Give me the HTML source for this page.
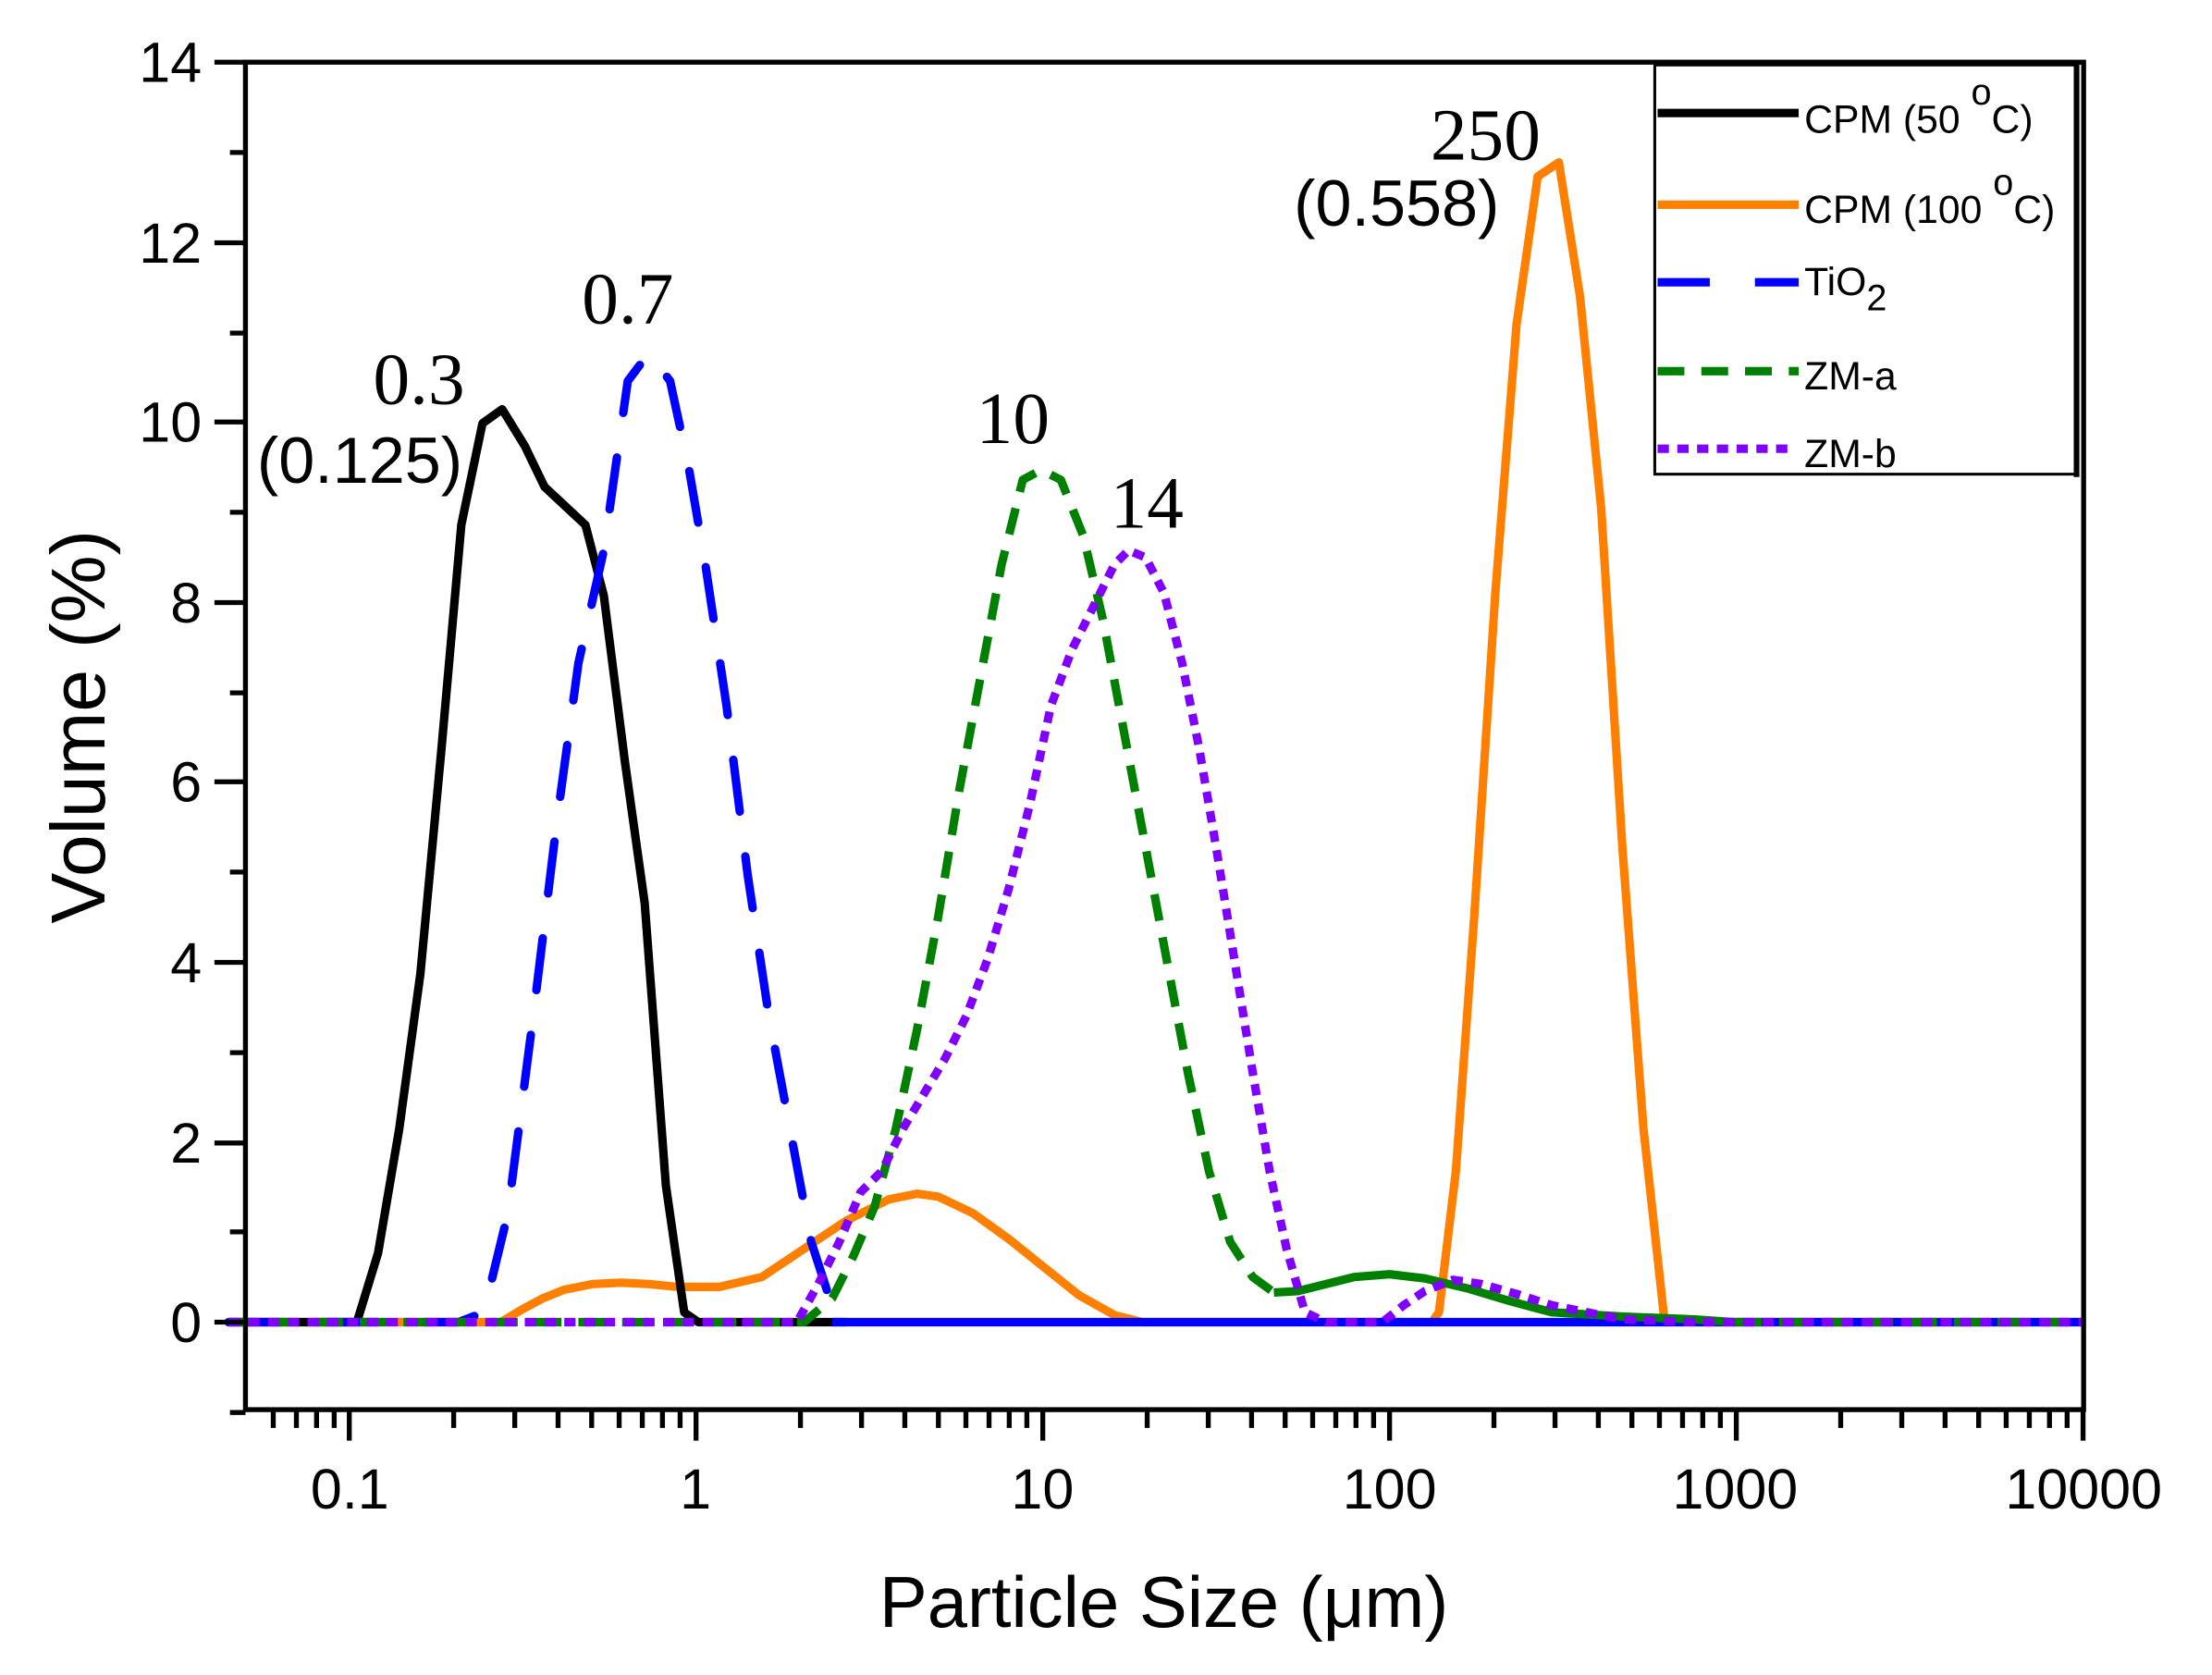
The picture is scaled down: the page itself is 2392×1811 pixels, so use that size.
<!DOCTYPE html>
<html><head><meta charset="utf-8"><style>html,body{margin:0;padding:0;background:#fff}svg{display:block}</style></head>
<body>
<svg width="2392" height="1811" viewBox="0 0 1568 1187" xmlns="http://www.w3.org/2000/svg" font-family="Liberation Sans, sans-serif">
<rect width="1568" height="1187" fill="#fff"/>
<g fill="none" stroke-linejoin="round" stroke-width="6">
<polyline stroke="#FF8000" points="162,937 355,937 370,928 385,920 400,914 420,910 440,909 460,910 480,912 510,912 540,905 570,885 600,865 630,850 650,846 665,848 690,860 715,878 740,898 765,918 790,932 810,937 1015,937 1020,930 1032,830 1045,650 1060,420 1075,230 1090,125 1105,115 1120,210 1135,360 1150,600 1165,800 1180,937 1477,937"/>
<polyline stroke="#000" points="162,937 253,937 268,888 283,800 298,690 313,530 327,372 342,300 356,290 372,316 386,345 415,372 428,422 443,540 457,640 472,840 485,930 495,937 600,937"/>
<polyline stroke="#0000FF" stroke-dasharray="37,32" stroke-linecap="round" points="162,937 325,937 343,930 360,860 378,720 395,580 410,470 428,390 445,270 460,250 475,270 488,330 500,400 515,500 530,620 545,720 560,800 575,880 588,920 600,937"/>
<polyline stroke="#0000FF" points="590,937 1477,937"/>
<polyline stroke="#008000" stroke-dasharray="19,12" points="162,937 570,937 590,920 605,890 620,855 635,800 650,730 665,650 680,560 695,480 710,400 725,340 738,333 752,340 768,380 782,440 797,520 812,600 827,680 842,760 857,830 872,880 888,905 903,916"/>
<polyline stroke="#008000" points="903,916 920,915 940,910 960,905 985,903 1010,906 1040,913 1070,922 1100,930 1150,933 1200,935 1230,937"/>
<polyline stroke="#008000" stroke-dasharray="19,12" points="1230,937 1477,937"/>
<polyline stroke="#8000FF" stroke-dasharray="8,6" points="162,937 565,937 580,910 595,880 610,845 625,830 640,800 655,775 670,750 685,720 700,680 715,630 730,570 745,500 760,460 775,430 790,400 800,390 812,395 825,420 838,470 850,530 862,600 875,680 888,760 900,830 912,885 925,930 940,937 980,937 995,925 1010,915 1030,907 1050,910 1075,917 1100,925 1150,935 1200,937 1477,937"/>
</g>
<rect x="174" y="44" width="1303" height="955" fill="none" stroke="#000" stroke-width="3.5"/>
<g stroke="#000" stroke-width="3.5">
<path d="M152 44H174M152 172H174M152 299H174M152 427H174M152 554H174M152 682H174M152 810H174M152 937H174M163 108H174M163 236H174M163 363H174M163 491H174M163 618H174M163 746H174M163 873H174M163 1001H174"/>
<path d="M247.6 999V1021M493.4 999V1021M739.2 999V1021M985 999V1021M1230.8 999V1021M1476.6 999V1021"/>
<path d="M193.7 999V1012M210.1 999V1012M224.4 999V1012M236.9 999V1012M321.6 999V1012M364.9 999V1012M395.6 999V1012M419.4 999V1012M438.9 999V1012M455.3 999V1012M469.6 999V1012M482.1 999V1012M567.4 999V1012M610.7 999V1012M641.4 999V1012M665.2 999V1012M684.7 999V1012M701.1 999V1012M715.4 999V1012M727.9 999V1012M813.2 999V1012M856.5 999V1012M887.2 999V1012M911 999V1012M930.5 999V1012M946.9 999V1012M961.2 999V1012M973.7 999V1012M1059 999V1012M1102.3 999V1012M1133 999V1012M1156.8 999V1012M1176.3 999V1012M1192.7 999V1012M1207 999V1012M1219.5 999V1012M1304.8 999V1012M1348.1 999V1012M1378.8 999V1012M1402.6 999V1012M1422.1 999V1012M1438.5 999V1012M1452.8 999V1012M1465.3 999V1012"/>
</g>
<g font-size="40" text-anchor="end" fill="#000">
<text x="143" y="58">14</text><text x="143" y="186">12</text><text x="143" y="313">10</text><text x="143" y="441">8</text><text x="143" y="568">6</text><text x="143" y="696">4</text><text x="143" y="824">2</text><text x="143" y="951">0</text>
</g>
<g font-size="40" text-anchor="middle" fill="#000">
<text x="248" y="1069">0.1</text><text x="493" y="1069">1</text><text x="739" y="1069">10</text><text x="985" y="1069">100</text><text x="1230" y="1069">1000</text><text x="1477" y="1069">10000</text>
</g>
<text x="825" y="1153" font-size="51" text-anchor="middle">Particle Size (μm)</text>
<text transform="translate(74,515) rotate(-90)" font-size="54" text-anchor="middle">Volume (%)</text>
<g font-family="Liberation Serif, serif" font-size="52" text-anchor="middle">
<text x="297" y="286">0.3</text><text x="445" y="229">0.7</text><text x="718" y="314">10</text><text x="813" y="374">14</text><text x="1053" y="113">250</text>
</g>
<g font-size="46" text-anchor="middle">
<text x="255" y="342">(0.125)</text><text x="990" y="160">(0.558)</text>
</g>
<rect x="1173" y="46" width="299" height="290" fill="#fff" stroke="#000" stroke-width="2"/>
<line x1="1472" y1="44" x2="1472" y2="338" stroke="#000" stroke-width="4"/>
<g stroke-width="6">
<line x1="1175" y1="80" x2="1275" y2="80" stroke="#000"/>
<line x1="1175" y1="145" x2="1275" y2="145" stroke="#FF8000"/>
<line x1="1175" y1="200" x2="1275" y2="200" stroke="#0000FF" stroke-dasharray="37,32"/>
<line x1="1175" y1="263" x2="1275" y2="263" stroke="#008000" stroke-dasharray="19,12"/>
<line x1="1175" y1="318" x2="1268" y2="318" stroke="#8000FF" stroke-dasharray="8,6"/>
</g>
<g font-size="28" fill="#000">
<text x="1279" y="94">CPM (50 <tspan dy="-20" font-size="26">o</tspan><tspan dy="20">C)</tspan></text>
<text x="1279" y="158">CPM (100 <tspan dy="-20" font-size="26">o</tspan><tspan dy="20">C)</tspan></text>
<text x="1279" y="209">TiO<tspan dy="11" font-size="26">2</tspan></text>
<text x="1279" y="276">ZM-a</text>
<text x="1279" y="331">ZM-b</text>
</g>
</svg>
</body></html>
